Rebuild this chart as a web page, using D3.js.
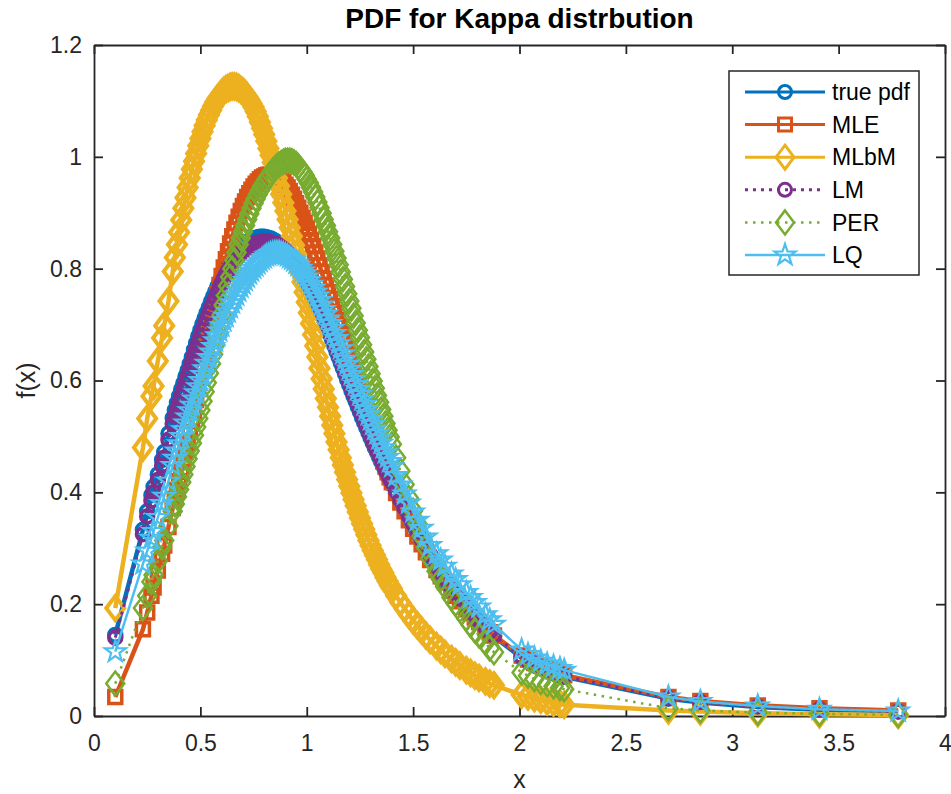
<!DOCTYPE html>
<html>
<head>
<meta charset="utf-8">
<script src="https://cdn.jsdelivr.net/npm/d3@7"></script>
<style>
  body { margin: 0; background: #fff; }
  text { font-family: "Liberation Sans", Arial, Helvetica, sans-serif; fill: #262626; }
</style>
</head>
<body>
<svg id="chart" width="951" height="794"></svg>
<script>
// Sample points at which each density is evaluated
const xSample = [
  0.10,0.23,0.25,0.27,0.28,0.30,0.32,0.33,0.35,0.37,
  0.38,0.39,0.40,0.41,0.42,0.43,0.44,0.45,0.46,0.47,
  0.48,0.49,0.50,0.51,0.52,0.53,0.54,0.55,0.56,0.57,
  0.58,0.59,0.60,0.61,0.62,0.63,0.64,0.65,0.66,0.67,
  0.68,0.69,0.70,0.71,0.72,0.73,0.74,0.75,0.76,0.77,
  0.78,0.79,0.80,0.81,0.82,0.83,0.84,0.85,0.86,0.87,
  0.88,0.89,0.90,0.91,0.92,0.93,0.94,0.95,0.96,0.97,
  0.98,0.99,1.00,1.01,1.02,1.03,1.04,1.05,1.06,1.07,
  1.08,1.09,1.10,1.11,1.12,1.13,1.14,1.15,1.16,1.17,
  1.18,1.19,1.20,1.21,1.22,1.23,1.24,1.25,1.26,1.27,
  1.28,1.29,1.30,1.31,1.32,1.33,1.34,1.35,1.36,1.37,
  1.38,1.39,1.40,
  1.42,1.44,1.46,1.48,1.50,1.52,1.54,1.56,1.58,1.61,1.63,1.65,1.68,1.70,1.72,1.75,1.77,1.79,1.81,1.84,1.86,1.88,
  2.01,2.04,2.07,2.10,2.13,2.16,2.19,2.21,2.70,2.85,3.12,3.41,3.78
];

const truePdf = [
  .145,.333,.366,.395,.41,.432,.458,.472,.505,.533,
  .547,.560,.572,.584,.595,.607,.618,.630,.642,.655,
  .667,.679,.690,.701,.711,.721,.731,.741,.750,.759,
  .768,.777,.785,.792,.799,.806,.812,.818,.823,.828,
  .832,.836,.840,.844,.847,.850,.852,.854,.855,.856,
  .857,.857,.857,.856,.855,.854,.852,.850,.847,.844,
  .841,.838,.834,.830,.825,.820,.815,.809,.803,.797,
  .790,.783,.776,.769,.761,.753,.745,.737,.728,.719,
  .710,.701,.691,.682,.672,.662,.652,.642,.632,.622,
  .612,.602,.592,.582,.572,.563,.553,.544,.534,.525,
  .516,.507,.498,.489,.480,.472,.463,.455,.447,.438,
  .430,.422,.414,
  .398,.383,.368,.354,.340,.326,.312,.298,.285,.266,.254,.243,.228,.218,.208,.194,.185,.176,.168,.156,.149,.142,
  .104,.097,.091,.086,.081,.077,.073,.070,.031,.024,.016,.011,.008
];

const mleFit = [
  .034,.155,.185,.215,.23,.26,.29,.305,.338,.372,
  .388,.404,.420,.437,.455,.472,.490,.508,.527,.546,
  .565,.585,.605,.625,.645,.665,.684,.702,.720,.738,
  .755,.771,.787,.802,.817,.831,.845,.858,.870,.882,
  .893,.903,.912,.920,.928,.935,.941,.947,.952,.956,
  .960,.963,.965,.967,.968,.968,.968,.967,.965,.962,
  .959,.955,.950,.945,.939,.932,.925,.917,.909,.900,
  .891,.882,.872,.862,.851,.840,.829,.818,.806,.794,
  .782,.770,.758,.746,.733,.721,.708,.696,.683,.671,
  .658,.646,.633,.621,.609,.597,.585,.573,.562,.550,
  .539,.528,.517,.506,.496,.486,.476,.465,.455,.446,
  .436,.427,.418,
  .399,.382,.366,.350,.335,.321,.307,.293,.279,.261,.250,.239,.224,.215,.205,.191,.184,.176,.168,.157,.150,.144,
  .108,.101,.095,.090,.085,.080,.076,.073,.034,.027,.019,.014,.010
];

const mlbmFit = [
  .193,.48,.532,.572,.59,.635,.676,.698,.742,.795,
  .820,.843,.865,.887,.908,.927,.945,.962,.978,.992,
  1.006,1.020,1.033,1.045,1.056,1.066,1.075,1.083,1.091,1.098,
  1.104,1.109,1.114,1.118,1.121,1.123,1.125,1.126,1.126,1.125,
  1.123,1.120,1.117,1.113,1.108,1.102,1.096,1.089,1.081,1.072,
  1.062,1.051,1.040,1.028,1.015,1.003,.990,.976,.962,.948,
  .933,.918,.903,.888,.873,.858,.842,.826,.810,.793,
  .776,.758,.740,.721,.702,.682,.662,.642,.622,.603,
  .585,.568,.552,.536,.520,.505,.490,.476,.462,.449,
  .436,.423,.411,.399,.387,.376,.365,.354,.344,.334,
  .324,.314,.305,.296,.288,.280,.271,.263,.256,.248,
  .241,.234,.228,
  .215,.203,.192,.181,.171,.162,.153,.144,.136,.125,.118,.111,.102,.096,.090,.082,.077,.072,.068,.062,.058,.055,
  .038,.035,.032,.029,.026,.024,.022,.020,.010,.008,.005,.003,.002
];

const lmFit = [
  .14,.325,.357,.385,.4,.422,.448,.462,.494,.522,
  .536,.548,.560,.572,.584,.596,.607,.619,.631,.644,
  .656,.668,.679,.690,.700,.710,.720,.730,.739,.748,
  .757,.766,.774,.782,.789,.796,.802,.808,.813,.818,
  .823,.827,.831,.834,.837,.840,.842,.844,.845,.846,
  .847,.848,.848,.848,.848,.847,.846,.845,.843,.841,
  .838,.835,.832,.828,.824,.820,.815,.810,.805,.799,
  .793,.787,.780,.773,.766,.758,.750,.742,.733,.724,
  .715,.706,.697,.688,.678,.668,.658,.648,.638,.628,
  .618,.608,.598,.588,.578,.569,.559,.550,.540,.531,
  .521,.512,.503,.494,.485,.476,.468,.459,.451,.442,
  .434,.426,.418,
  .402,.387,.372,.358,.344,.330,.316,.302,.289,.270,.258,.247,.231,.221,.211,.197,.188,.179,.171,.159,.151,.144,
  .106,.099,.093,.088,.083,.078,.074,.071,.032,.025,.017,.012,.008
];

const perFit = [
  .058,.193,.215,.24,.252,.277,.302,.314,.34,.366,
  .379,.392,.405,.418,.432,.446,.460,.474,.488,.502,
  .517,.532,.547,.563,.580,.596,.613,.630,.647,.664,
  .682,.700,.717,.735,.752,.769,.785,.800,.815,.829,
  .843,.855,.866,.877,.888,.898,.908,.917,.925,.933,
  .940,.947,.953,.959,.965,.970,.975,.979,.983,.986,
  .989,.991,.993,.993,.993,.992,.990,.987,.983,.978,
  .973,.967,.960,.953,.945,.937,.928,.919,.909,.899,
  .888,.877,.866,.855,.843,.831,.819,.807,.794,.781,
  .768,.755,.742,.729,.716,.703,.690,.677,.664,.651,
  .638,.625,.612,.599,.586,.573,.561,.548,.536,.523,
  .511,.499,.486,
  .462,.438,.414,.390,.367,.344,.322,.302,.282,.259,.245,.231,.212,.201,.190,.174,.163,.153,.144,.131,.121,.114,
  .078,.072,.066,.061,.057,.053,.050,.048,.014,.010,.006,.004,.002
];

const lqFit = [
  .115,.272,.295,.318,.33,.355,.38,.393,.42,.448,
  .461,.474,.487,.500,.512,.524,.535,.546,.556,.567,
  .578,.589,.600,.611,.621,.631,.641,.651,.661,.671,
  .680,.689,.698,.707,.715,.723,.731,.739,.746,.753,
  .760,.767,.773,.779,.785,.791,.796,.801,.805,.809,
  .813,.817,.820,.823,.825,.827,.828,.829,.829,.829,
  .828,.827,.825,.823,.820,.817,.814,.810,.806,.801,
  .796,.791,.785,.779,.772,.765,.758,.751,.743,.735,
  .727,.719,.710,.702,.693,.684,.675,.666,.657,.648,
  .638,.629,.620,.611,.602,.593,.584,.575,.566,.557,
  .548,.539,.530,.522,.513,.505,.496,.488,.480,.471,
  .463,.455,.446,
  .430,.413,.397,.381,.365,.350,.336,.320,.305,.290,.279,.268,.254,.244,.235,.221,.212,.203,.195,.181,.172,.164,
  .118,.110,.104,.098,.093,.089,.085,.082,.034,.026,.018,.012,.009
];

const seriesNames = ["true pdf", "MLE", "MLbM", "LM", "PER", "LQ"];
const xTicks = [0, 0.5, 1, 1.5, 2, 2.5, 3, 3.5, 4];
const xTickLabels = ["0", "0.5", "1", "1.5", "2", "2.5", "3", "3.5", "4"];
const yTicks = [0, 0.2, 0.4, 0.6, 0.8, 1, 1.2];
const yTickLabels = ["0", "0.2", "0.4", "0.6", "0.8", "1", "1.2"];
const titleText = "PDF for Kappa distrbution";
const xLabelText = "x";
const yLabelText = "f(x)";

// ---- drawing styles ----
const styles = [
  { color: "#0072BD", lw: 4.5, dash: null,      marker: "circle",  mw: 3.5 },
  { color: "#D95319", lw: 4.5, dash: null,      marker: "square",  mw: 3.5 },
  { color: "#EDB120", lw: 4.5, dash: null,      marker: "diamond", mw: 4 },
  { color: "#7E2F8E", lw: 3,   dash: "3,5",     marker: "circle",  mw: 3.5 },
  { color: "#77AC30", lw: 2.5, dash: "2.5,5.5", marker: "diamond", mw: 2.5 },
  { color: "#4DBEEE", lw: 2.5, dash: null,      marker: "star",    mw: 2.2 }
];
const seriesValues = [truePdf, mleFit, mlbmFit, lmFit, perFit, lqFit];

function markerPath(kind) {
  if (kind === "circle") {
    const r = 6.5;
    return `M${r},0A${r},${r} 0 1,1 ${-r},0A${r},${r} 0 1,1 ${r},0Z`;
  }
  if (kind === "square") {
    const s = 6.5;
    return `M${-s},${-s}H${s}V${s}H${-s}Z`;
  }
  if (kind === "diamond") {
    const w = 9, h = 12;
    return `M0,${-h}L${w},0L0,${h}L${-w},0Z`;
  }
  // five-pointed star
  const R = 11, r = 4.3;
  const pts = d3.range(10).map(i => {
    const a = -Math.PI / 2 + i * Math.PI / 5;
    const rad = i % 2 === 0 ? R : r;
    return [rad * Math.cos(a), rad * Math.sin(a)];
  });
  return "M" + pts.map(p => p[0].toFixed(2) + "," + p[1].toFixed(2)).join("L") + "Z";
}

const svg = d3.select("#chart");
const plotLeft = 94, plotRight = 945, plotTop = 45, plotBottom = 716;
const x = d3.scaleLinear().domain([0, 4]).range([plotLeft, plotRight]);
const y = d3.scaleLinear().domain([0, 1.2]).range([plotBottom, plotTop]);
const axisColor = "#262626";
const tickLen = 9;

// axes (box with inward ticks)
const gB = svg.append("g").attr("transform", `translate(0,${plotBottom})`)
  .call(d3.axisBottom(x).tickValues(xTicks).tickSize(-tickLen).tickSizeOuter(0)
    .tickPadding(19).tickFormat((d, i) => xTickLabels[i]));
const gT = svg.append("g").attr("transform", `translate(0,${plotTop})`)
  .call(d3.axisTop(x).tickValues(xTicks).tickSize(-tickLen).tickSizeOuter(0).tickFormat(""));
const gL = svg.append("g").attr("transform", `translate(${plotLeft},0)`)
  .call(d3.axisLeft(y).tickValues(yTicks).tickSize(-tickLen).tickSizeOuter(0)
    .tickPadding(12).tickFormat((d, i) => yTickLabels[i]));
const gR = svg.append("g").attr("transform", `translate(${plotRight},0)`)
  .call(d3.axisRight(y).tickValues(yTicks).tickSize(-tickLen).tickSizeOuter(0).tickFormat(""));

[gB, gT, gL, gR].forEach(g => {
  g.select(".domain").attr("stroke", axisColor).attr("stroke-width", 1.8);
  g.selectAll(".tick line").attr("stroke", axisColor).attr("stroke-width", 1.8);
  g.selectAll(".tick text").attr("fill", axisColor)
    .style("font-size", "23px").style("font-family", "'Liberation Sans', Arial, sans-serif");
});

// data series
const line = d3.line().defined(d => d[1] != null).x(d => x(d[0])).y(d => y(d[1]));
seriesValues.forEach((vals, k) => {
  const st = styles[k];
  const pts = xSample.map((xv, i) => [xv, vals[i]]).filter(d => d[1] != null);
  const g = svg.append("g");
  g.append("path").datum(pts)
    .attr("d", line)
    .attr("fill", "none")
    .attr("stroke", st.color)
    .attr("stroke-width", st.lw)
    .attr("stroke-linejoin", "round")
    .attr("stroke-dasharray", st.dash);
  g.selectAll("path.mk").data(pts).join("path")
    .attr("class", "mk")
    .attr("d", markerPath(st.marker))
    .attr("transform", d => `translate(${x(d[0])},${y(d[1])})`)
    .attr("fill", "none")
    .attr("stroke", st.color)
    .attr("stroke-width", st.mw)
    .attr("stroke-linejoin", "miter");
});

// title and axis labels
svg.append("text").attr("x", (plotLeft + plotRight) / 2).attr("y", 28)
  .attr("text-anchor", "middle").style("font-size", "28px").style("font-weight", "bold")
  .style("fill", "#000").text(titleText);
svg.append("text").attr("x", (plotLeft + plotRight) / 2).attr("y", 788)
  .attr("text-anchor", "middle").style("font-size", "25px").text(xLabelText);
svg.append("text").attr("transform", `translate(35,${(plotTop + plotBottom) / 2}) rotate(-90)`)
  .attr("text-anchor", "middle").style("font-size", "25px").text(yLabelText);

// legend
const lg = svg.append("g");
const lgX = 729, lgY = 71, lgW = 190, lgH = 204;
lg.append("rect").attr("x", lgX).attr("y", lgY).attr("width", lgW).attr("height", lgH)
  .attr("fill", "#fff").attr("stroke", axisColor).attr("stroke-width", 1.5);
seriesNames.forEach((name, k) => {
  const st = styles[k];
  const cy = 92 + k * 32.6;
  lg.append("line").attr("x1", 745).attr("x2", 825).attr("y1", cy).attr("y2", cy)
    .attr("stroke", st.color).attr("stroke-width", st.lw > 3 ? 3 : st.lw)
    .attr("stroke-dasharray", st.dash);
  lg.append("path").attr("d", markerPath(st.marker))
    .attr("transform", `translate(785,${cy})`)
    .attr("fill", "none").attr("stroke", st.color).attr("stroke-width", Math.min(st.mw, 3));
  lg.append("text").attr("x", 832).attr("y", cy).attr("dy", "0.36em")
    .style("font-size", "23px").style("fill", "#000").text(name);
});
</script>
</body>
</html>
